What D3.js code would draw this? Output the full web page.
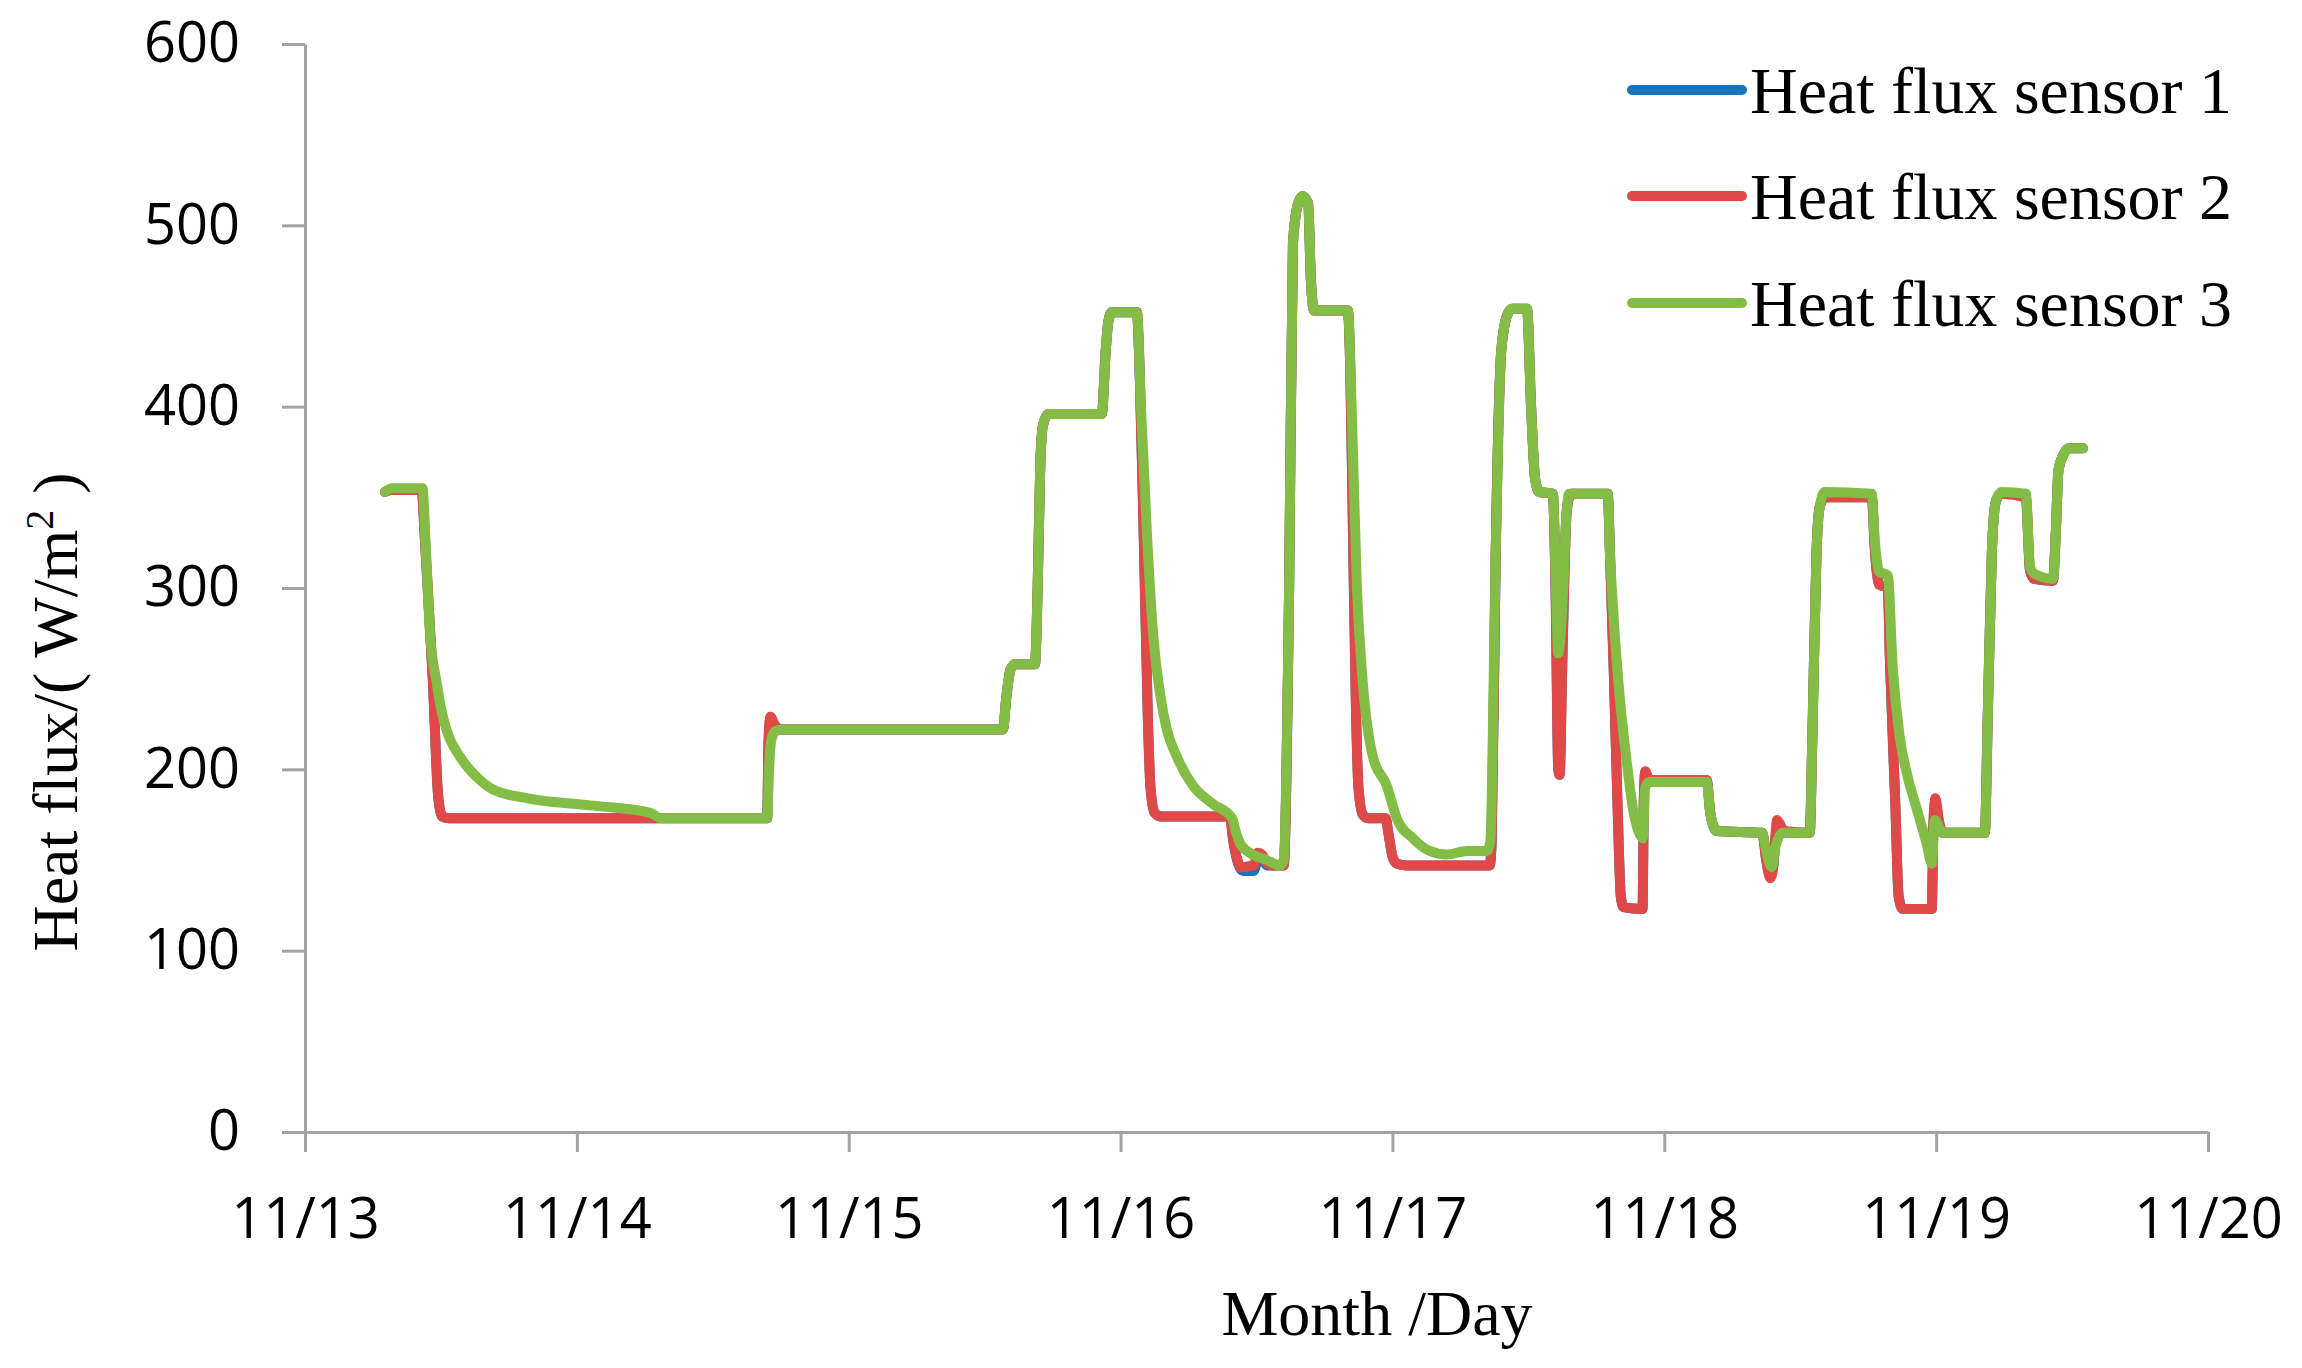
<!DOCTYPE html>
<html>
<head>
<meta charset="utf-8">
<script src="https://cdn.jsdelivr.net/npm/d3@7"></script>
<style>
  html, body { margin: 0; padding: 0; background: #fff; }
  svg { display: block; }
</style>
</head>
<body>
<svg id="chart" width="2302" height="1368"></svg>
<script>
// ---- Data (time in days after 11/13 00:00, heat flux in W/m2) ----
const tickLabels = ["11/13", "11/14", "11/15", "11/16", "11/17", "11/18", "11/19", "11/20"];
const yTicks = [0, 100, 200, 300, 400, 500, 600];
const seriesNames = ["Heat flux sensor 1", "Heat flux sensor 2", "Heat flux sensor 3"];
const seriesColors = ["#1a73bd", "#df4a48", "#83bd45"];

const sensor2 = [
  [0.294,353],[0.32,354],[0.429,354],[0.44,330],[0.47,250],[0.49,185],[0.505,174],[0.53,173],
  [1.70,173],[1.705,215],[1.712,229],[1.73,224],[1.755,222],[2.567,222],[2.58,240],[2.595,255],
  [2.611,258],[2.685,258],[2.695,300],[2.705,370],[2.715,390],[2.735,396],[2.931,396],[2.945,430],
  [2.955,447],[2.968,452],[3.060,452],[3.07,420],[3.085,330],[3.10,230],[3.11,190],[3.125,176],
  [3.15,174],[3.402,174],[3.415,160],[3.43,150],[3.44,146],[3.49,147],[3.505,154],[3.52,153],
  [3.54,148],[3.56,147],[3.60,147],[3.62,300],[3.634,490],[3.655,513],[3.67,516],[3.69,512],
  [3.70,470],[3.712,453],[3.836,453],[3.845,420],[3.855,330],[3.865,240],[3.875,190],[3.891,175],
  [3.91,173],[3.975,173],[3.985,165],[4.00,152],[4.016,148],[4.05,147],[4.358,147],[4.365,160],
  [4.38,320],[4.40,430],[4.421,450],[4.44,454],[4.495,454],[4.51,400],[4.525,360],[4.54,353],
  [4.59,352],[4.60,300],[4.61,200],[4.615,197],[4.625,260],[4.64,340],[4.65,350],[4.66,352],
  [4.792,352],[4.80,320],[4.815,250],[4.83,170],[4.84,130],[4.85,124],[4.92,123],[4.925,185],
  [4.93,199],[4.945,194],[5.156,194],[5.17,175],[5.193,166],[5.36,165],[5.375,150],[5.39,140],
  [5.40,145],[5.415,172],[5.425,170],[5.44,166],[5.535,165],[5.545,220],[5.56,320],[5.572,345],
  [5.59,350],[5.763,350],[5.775,320],[5.79,302],[5.822,300],[5.83,260],[5.85,180],[5.862,130],
  [5.877,123],[5.984,123],[5.99,170],[5.997,184],[6.01,172],[6.024,165],[6.179,165],[6.19,230],
  [6.205,320],[6.22,348],[6.24,352],[6.33,350],[6.345,310],[6.36,305],[6.43,304],[6.44,330],
  [6.45,365],[6.47,374],[6.49,377],[6.54,377]
];

const sensor1 = [
  [0.294,353],[0.32,354],[0.429,354],[0.44,330],[0.47,250],[0.49,185],[0.505,174],[0.53,173],
  [1.70,173],[1.705,215],[1.712,228],[1.73,224],[1.755,222],[2.567,222],[2.58,240],[2.595,255],
  [2.611,258],[2.685,258],[2.695,300],[2.705,370],[2.715,390],[2.735,396],[2.931,396],[2.945,430],
  [2.955,447],[2.968,452],[3.060,452],[3.07,420],[3.085,330],[3.10,230],[3.11,190],[3.125,176],
  [3.15,174],[3.402,174],[3.415,160],[3.43,149],[3.45,144],[3.49,144],[3.505,150],[3.52,150],
  [3.54,147],[3.56,147],[3.60,147],[3.62,300],[3.634,490],[3.655,513],[3.67,516],[3.69,512],
  [3.70,470],[3.712,453],[3.836,453],[3.845,420],[3.855,330],[3.865,240],[3.875,190],[3.891,175],
  [3.91,173],[3.975,173],[3.985,165],[4.00,152],[4.016,148],[4.05,147],[4.358,147],[4.365,160],
  [4.38,320],[4.40,430],[4.421,450],[4.44,454],[4.495,454],[4.51,400],[4.525,360],[4.54,353],
  [4.59,352],[4.60,300],[4.61,200],[4.615,197],[4.625,260],[4.64,340],[4.65,350],[4.66,352],
  [4.792,352],[4.80,320],[4.815,250],[4.83,170],[4.84,130],[4.85,124],[4.92,123],[4.925,185],
  [4.93,198],[4.945,194],[5.156,194],[5.17,175],[5.193,166],[5.36,165],[5.375,150],[5.39,141],
  [5.40,146],[5.415,168],[5.425,166],[5.44,165],[5.535,165],[5.545,220],[5.56,320],[5.572,345],
  [5.59,350],[5.763,350],[5.775,320],[5.79,302],[5.822,300],[5.83,260],[5.85,180],[5.862,130],
  [5.877,123],[5.984,123],[5.99,170],[5.997,182],[6.01,171],[6.024,165],[6.179,165],[6.19,230],
  [6.205,320],[6.22,348],[6.24,352],[6.33,350],[6.345,310],[6.36,305],[6.43,304],[6.44,330],
  [6.45,365],[6.47,374],[6.49,377],[6.54,377]
];

const sensor3 = [
  [0.294,353],[0.32,355],[0.432,355],[0.445,320],[0.46,275],[0.484,248],[0.50,234],[0.52,222],
  [0.57,207],[0.63,196],[0.69,189],[0.82,184],[1.06,180],[1.27,176],[1.31,173],[1.70,173],[1.707,200],
  [1.715,216],[1.73,221],[1.755,222],[2.567,222],[2.58,240],[2.595,255],[2.611,258],[2.685,258],
  [2.695,300],[2.705,370],[2.715,390],[2.735,396],[2.931,396],[2.945,430],[2.955,447],[2.968,452],
  [3.06,452],[3.075,400],[3.097,330],[3.12,274],[3.145,242],[3.17,222],[3.207,207],[3.266,191],
  [3.339,181],[3.41,173],[3.425,165],[3.44,159],[3.475,154],[3.538,150],[3.586,147],[3.60,150],
  [3.62,300],[3.634,490],[3.655,513],[3.67,516],[3.69,512],[3.70,470],[3.712,453],[3.836,453],
  [3.85,400],[3.869,301],[3.891,248],[3.928,207],[3.979,191],[4.016,173],[4.075,162],[4.137,155],
  [4.20,153],[4.274,155],[4.347,155],[4.36,160],[4.38,320],[4.40,430],[4.421,450],[4.44,454],
  [4.495,454],[4.51,400],[4.525,360],[4.54,353],[4.59,352],[4.60,310],[4.61,264],[4.625,290],
  [4.64,340],[4.65,352],[4.792,352],[4.80,320],[4.811,290],[4.836,240],[4.862,204],[4.884,179],
  [4.91,164],[4.921,162],[4.93,190],[4.945,193],[5.156,193],[5.17,175],[5.193,166],[5.36,165],
  [5.375,155],[5.395,146],[5.41,158],[5.436,165],[5.535,165],[5.545,220],[5.56,320],[5.572,345],
  [5.59,353],[5.763,352],[5.775,325],[5.79,309],[5.822,307],[5.84,257],[5.866,218],[5.892,198],
  [5.929,178],[5.965,159],[5.984,148],[5.995,172],[6.024,165],[6.179,165],[6.19,230],[6.205,320],
  [6.22,348],[6.24,353],[6.33,352],[6.345,312],[6.36,308],[6.43,305],[6.44,330],[6.45,365],
  [6.47,374],[6.49,377],[6.54,377]
];

const allSeries = [sensor1, sensor2, sensor3];

// ---- Layout ----
const svg = d3.select("#chart");
const plotLeft = 305, plotRight = 2208, plotTop = 44, plotBottom = 1132;
const axisColor = "#a3a3a3";
const tickFont = "'Open Sans', 'Noto Sans', sans-serif";
const serifFont = "'Liberation Serif', 'DejaVu Serif', serif";

const x = d3.scaleLinear().domain([0, tickLabels.length - 1]).range([plotLeft, plotRight]);
const y = d3.scaleLinear().domain([0, 600]).range([plotBottom, plotTop]);

// Y axis
const yAxis = d3.axisLeft(y).tickValues(yTicks).tickSize(23).tickSizeOuter(0).tickPadding(42);
const gy = svg.append("g").attr("transform", `translate(${plotLeft},0)`).call(yAxis);
gy.select(".domain").attr("stroke", axisColor).attr("stroke-width", 3);
gy.selectAll(".tick line").attr("stroke", axisColor).attr("stroke-width", 3);
gy.selectAll(".tick text").attr("font-family", tickFont).attr("font-size", 56).attr("fill", "#000");

// X axis
const xAxis = d3.axisBottom(x).tickValues(d3.range(tickLabels.length))
  .tickFormat(i => tickLabels[i]).tickSize(20).tickSizeOuter(0);
const gx = svg.append("g").attr("transform", `translate(0,${plotBottom})`).call(xAxis);
gx.select(".domain").attr("stroke", axisColor).attr("stroke-width", 3);
gx.selectAll(".tick line").attr("stroke", axisColor).attr("stroke-width", 3);
gx.selectAll(".tick text").attr("font-family", tickFont).attr("font-size", 56).attr("fill", "#000")
  .attr("y", 106).attr("dy", 0);

// Lines
const line = d3.line().x(d => x(d[0])).y(d => y(d[1])).curve(d3.curveMonotoneX);
svg.append("g").selectAll("path").data(allSeries).join("path")
  .attr("d", line)
  .attr("fill", "none")
  .attr("stroke", (d, i) => seriesColors[i])
  .attr("stroke-width", 10)
  .attr("stroke-linejoin", "round")
  .attr("stroke-linecap", "round");

// Legend
const legend = svg.append("g");
const legendY = [90, 196, 303];
seriesNames.forEach((name, i) => {
  legend.append("line")
    .attr("x1", 1632).attr("x2", 1742).attr("y1", legendY[i]).attr("y2", legendY[i])
    .attr("stroke", seriesColors[i]).attr("stroke-width", 10).attr("stroke-linecap", "round");
  legend.append("text")
    .attr("x", 1750).attr("y", legendY[i] + 23)
    .attr("font-family", serifFont).attr("font-size", 66).attr("fill", "#000")
    .text(name);
});

// Axis titles
svg.append("text")
  .attr("x", 1377).attr("y", 1335)
  .attr("text-anchor", "middle")
  .attr("font-family", serifFont).attr("font-size", 64).attr("fill", "#000")
  .text("Month /Day");

const yt = svg.append("text")
  .attr("transform", "translate(77,712) rotate(-90)")
  .attr("text-anchor", "middle")
  .attr("font-family", serifFont).attr("font-size", 64).attr("fill", "#000");
yt.append("tspan").text("Heat flux/( W/m");
yt.append("tspan").attr("dy", -24).attr("font-size", 40).text("2");
yt.append("tspan").attr("dy", 24).text(" )");
</script>
</body>
</html>
